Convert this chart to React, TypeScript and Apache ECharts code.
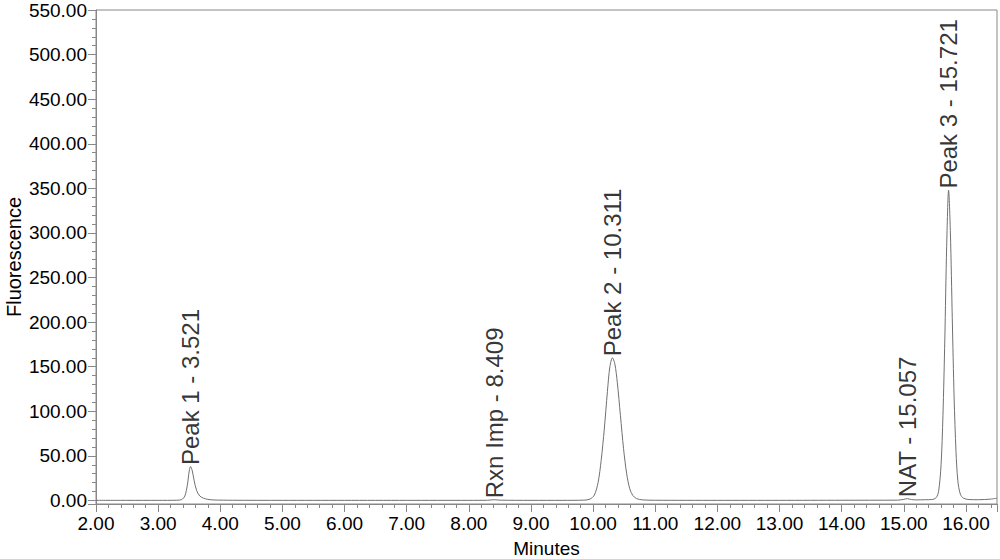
import React, { useEffect, useRef } from "react";
import * as echarts from "echarts";

// Chromatogram trace (minutes, fluorescence)
const traceTimes = [
  2.0, 2.5, 3.0, 3.3, 3.38, 3.43, 3.47, 3.5, 3.521, 3.55, 3.58, 3.62, 3.67, 3.73, 3.8, 3.9, 4.2,
  5.0, 6.0, 7.0, 8.0, 8.3, 8.409, 8.5, 9.0, 9.5, 9.85, 9.95, 10.02, 10.08, 10.13, 10.18, 10.23,
  10.27, 10.311, 10.35, 10.39, 10.44, 10.49, 10.54, 10.59, 10.64, 10.7, 10.8, 11.0, 12.0, 13.0,
  14.0, 14.9, 15.0, 15.057, 15.12, 15.2, 15.35, 15.45, 15.52, 15.56, 15.6, 15.63, 15.66, 15.69,
  15.721, 15.75, 15.78, 15.81, 15.84, 15.87, 15.91, 15.96, 16.05, 16.2, 16.4, 16.5,
];
const traceValues = [
  0.1, 0.1, 0.1, 0.2, 1.0, 5, 17, 33, 38, 33, 22, 11, 5, 2.5, 1.2, 0.5, 0.2,
  0.1, 0.1, 0.1, 0.1, 0.2, 0.8, 0.3, 0.1, 0.1, 0.3, 1.5, 6, 20, 45, 80, 122,
  150, 160, 153, 132, 95, 58, 30, 13, 5.5, 2, 0.6, 0.2, 0.1, 0.1,
  0.2, 0.3, 1.2, 2, 1, 0.6, 0.8, 1, 3, 10, 40, 95, 180, 285,
  348, 300, 205, 115, 55, 22, 7, 2.5, 1, 0.8, 1.5, 2.5,
];

// Peak annotations
const peakNames = ["Peak 1 - 3.521", "Rxn Imp - 8.409", "Peak 2 - 10.311", "NAT - 15.057", "Peak 3 - 15.721"];
const peakTimes = [3.521, 8.409, 10.311, 15.057, 15.721];
const peakHeights = [38, 0.8, 160, 2, 348];

const FONT = "'Liberation Sans', Arial, Helvetica, sans-serif";
const AXIS_GRAY = "#888888";

export default function App() {
  const ref = useRef<HTMLDivElement>(null);

  useEffect(() => {
    if (!ref.current) return;
    const chart = echarts.init(ref.current, undefined, { renderer: "svg" });

    const trace = traceTimes.map((t, i) => [t, traceValues[i]]);
    const peaks = peakTimes.map((t, i) => ({ name: peakNames[i], value: [t, peakHeights[i]] }));

    const fmt2 = (v: number) => v.toFixed(2);

    chart.setOption({
      animation: false,
      backgroundColor: "#ffffff",
      textStyle: { fontFamily: FONT },
      grid: {
        left: 96,
        right: 3,
        top: 10,
        bottom: 55,
        containLabel: false,
        outerBoundsMode: "none",
        show: true,
        borderColor: AXIS_GRAY,
        borderWidth: 1,
        backgroundColor: "transparent",
      },
      xAxis: [
        {
          type: "value",
          min: 2,
          max: 16.5,
          interval: 1,
          position: "bottom",
          name: "Minutes",
          nameLocation: "middle",
          nameGap: 35,
          nameMoveOverlap: false,
          nameTextStyle: { fontSize: 19, color: "#000", fontFamily: FONT },
          axisLine: { show: true, onZero: false, lineStyle: { color: AXIS_GRAY, width: 1 } },
          axisTick: { show: true, length: 8, lineStyle: { color: AXIS_GRAY } },
          axisLabel: {
            fontSize: 19,
            color: "#000",
            fontFamily: FONT,
            margin: 10,
            formatter: (v: number) => (Math.abs(v - Math.round(v)) < 1e-6 ? fmt2(v) : ""),
          },
          splitLine: { show: false },
        },
        {
          type: "value",
          min: 2,
          max: 16.5,
          interval: 0.2,
          position: "bottom",
          axisLine: { show: false, onZero: false },
          axisTick: { show: true, length: 4, lineStyle: { color: AXIS_GRAY } },
          axisLabel: { show: false },
          splitLine: { show: false },
        },
      ],
      yAxis: [
        {
          type: "value",
          min: -4,
          max: 550,
          splitNumber: 11,
          position: "left",
          name: "Fluorescence",
          nameLocation: "middle",
          nameGap: 72,
          nameMoveOverlap: false,
          nameRotate: 90,
          nameTextStyle: { fontSize: 20, color: "#000", fontFamily: FONT },
          axisLine: { show: true, onZero: false, lineStyle: { color: AXIS_GRAY, width: 1 } },
          axisTick: { show: true, length: 8, lineStyle: { color: AXIS_GRAY } },
          axisLabel: {
            fontSize: 19,
            color: "#000",
            fontFamily: FONT,
            margin: 9,
            formatter: (v: number) => (v < 0 ? "" : fmt2(v)),
          },
          splitLine: { show: false },
        },
        {
          type: "value",
          min: -4,
          max: 550,
          splitNumber: 55,
          position: "left",
          axisLine: { show: false, onZero: false },
          axisTick: { show: true, length: 4, lineStyle: { color: AXIS_GRAY } },
          axisLabel: { show: false },
          splitLine: { show: false },
        },
      ],
      series: [
        {
          type: "line",
          xAxisIndex: 0,
          yAxisIndex: 0,
          data: trace,
          showSymbol: false,
          symbol: "none",
          smooth: 0.3,
          lineStyle: { color: "#707070", width: 1 },
          silent: true,
        },
        {
          type: "scatter",
          xAxisIndex: 0,
          yAxisIndex: 0,
          data: peaks,
          symbolSize: 1,
          itemStyle: { color: "rgba(0,0,0,0)" },
          silent: true,
          label: {
            show: true,
            position: "top",
            distance: 1,
            rotate: 90,
            align: "left",
            verticalAlign: "middle",
            fontSize: 24,
            color: "#000",
            fontFamily: FONT,
            formatter: "{b}",
          },
        },
      ],
    });

    return () => {
      chart.dispose();
    };
  }, []);

  return (
    <div
      ref={ref}
      style={{ position: "fixed", left: 0, top: 0, width: 1000, height: 559, background: "#fff" }}
    />
  );
}
